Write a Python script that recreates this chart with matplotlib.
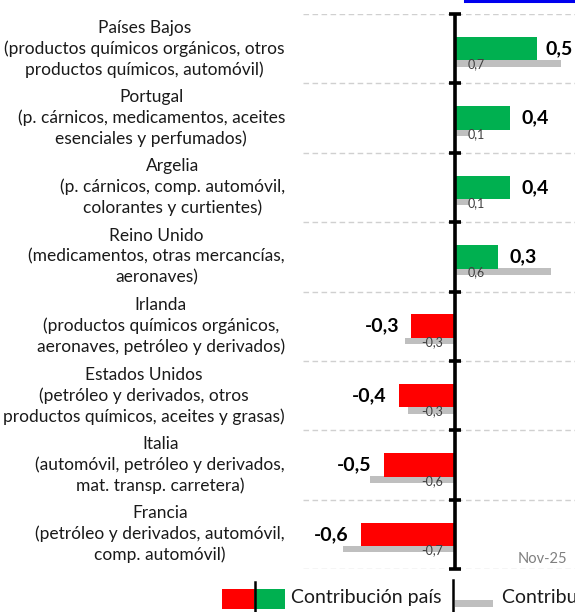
import matplotlib
matplotlib.use("Agg")
import matplotlib.pyplot as plt
from matplotlib.patches import Rectangle
from matplotlib.lines import Line2D

plt.rcParams['font.family'] = ['Lato', 'DejaVu Sans']

categories = [
    "Países Bajos\n(productos químicos orgánicos, otros\nproductos químicos, automóvil)",
    "Portugal\n(p. cárnicos, medicamentos, aceites\nesenciales y perfumados)",
    "Argelia\n(p. cárnicos, comp. automóvil,\ncolorantes y curtientes)",
    "Reino Unido\n(medicamentos, otras mercancías,\naeronaves)",
    "Irlanda\n(productos químicos orgánicos,\naeronaves, petróleo y derivados)",
    "Estados Unidos\n(petróleo y derivados, otros\nproductos químicos, aceites y grasas)",
    "Italia\n(automóvil, petróleo y derivados,\nmat. transp. carretera)",
    "Francia\n(petróleo y derivados, automóvil,\ncomp. automóvil)",
]
contrib_pais = [0.54, 0.36, 0.36, 0.28, -0.29, -0.37, -0.47, -0.62]
contrib_total = [0.70, 0.10, 0.10, 0.63, -0.33, -0.31, -0.56, -0.74]
period_label = "Nov-25"
legend_labels = ["Contribución país", "Contribución España"]

W, H = 575, 612
fig = plt.figure(figsize=(W / 100, H / 100), dpi=100)

# plot area in pixels
ax_l, ax_r, ax_t, ax_b = 303, 575, 14, 569
zero_px = 455
scale = 152.0  # px per unit
xmin = (ax_l - zero_px) / scale
xmax = (ax_r - zero_px) / scale

ax = fig.add_axes([ax_l / W, 1 - ax_b / H, (ax_r - ax_l) / W, (ax_b - ax_t) / H])
n = len(categories)
ax.set_xlim(xmin, xmax)
ax.set_ylim(n - 0.5, -0.5)
for s in ax.spines.values():
    s.set_visible(False)
ax.set_xticks([])
ax.set_yticks([])

green = "#00B050"
red = "#FF0000"
gray = "#BFBFBF"

# gridlines at category boundaries
for b in [i - 0.5 for i in range(n + 1)]:
    ax.axhline(b, color="#D0D0D0", lw=1.0, ls=(0, (4, 2.5)), zorder=0)

bh = 0.34
gh = 0.095
for i, (v, g) in enumerate(zip(contrib_pais, contrib_total)):
    ax.barh(i + bh / 2 + gh / 2 - 0.005, g, height=gh, color=gray, zorder=2)
    ax.barh(i, v, height=bh, color=green if v >= 0 else red, zorder=3)
    lab = f"{v:.1f}".replace(".", ",")
    glab = f"{g:.1f}".replace(".", ",")
    gy = i + bh / 2 + gh / 2 + 0.01
    if v >= 0:
        x = min(v + 12 / scale, (546 - zero_px) / scale)
        ax.text(x, i, lab, ha="left", va="center", fontsize=14,
                fontweight="bold", clip_on=False, zorder=5)
        ax.text(13 / scale, gy, glab, ha="left",
                va="center", fontsize=9, color="#404040", zorder=5)
    else:
        ax.text(v - 12 / scale, i, lab, ha="right", va="center", fontsize=14,
                fontweight="bold", clip_on=False, zorder=5)
        ax.text(-12 / scale, gy, glab, ha="right",
                va="center", fontsize=9, color="#404040", zorder=5)
    ax.text((285 - zero_px) / scale, i, categories[i], ha="right", va="center",
            multialignment="center", fontsize=12.5, linespacing=1.33,
            color="#1a1a1a", clip_on=False)

# vertical axis at zero with ticks
ax.axvline(0, color="black", lw=2.6, zorder=6)
for b in [i - 0.5 for i in range(n + 1)]:
    ax.plot([-6 / scale, 6 / scale], [b, b], color="black", lw=2.6,
            solid_capstyle="butt", zorder=6, clip_on=False)

ax.text((567 - zero_px) / scale, 7.35, period_label, ha="right", va="center",
        fontsize=10.5, color="#7F7F7F")

# overlay for decorations (legend, top rule)
ov = fig.add_axes([0, 0, 1, 1], zorder=10)
ov.set_xlim(0, W)
ov.set_ylim(H, 0)
ov.axis("off")
ov.add_line(Line2D([465, 575], [1, 1], color="#0000EE", lw=2.2))
ov.add_patch(Rectangle((222, 589), 32, 20, color=red, lw=0))
ov.add_patch(Rectangle((254, 589), 31, 20, color=green, lw=0))
ov.add_line(Line2D([254.5, 254.5], [582, 612], color="black", lw=1.8))
ov.text(291, 598, legend_labels[0], ha="left", va="center", fontsize=14,
        color="#1a1a1a")
ov.add_line(Line2D([453, 453], [580, 612], color="black", lw=1.8))
ov.add_patch(Rectangle((455, 600), 38, 7, color=gray, lw=0))
ov.text(502, 598, legend_labels[1], ha="left", va="center", fontsize=14,
        color="#1a1a1a", clip_on=False)

fig.savefig("out.png", dpi=100)
